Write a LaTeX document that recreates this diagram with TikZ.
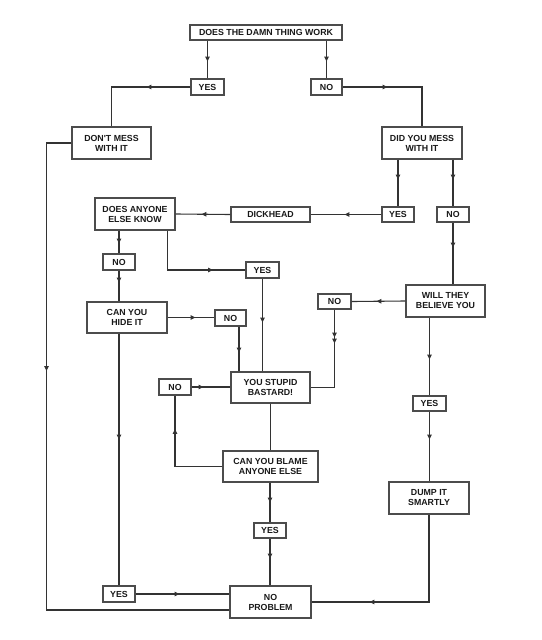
\documentclass[tikz,border=0pt]{standalone}
\usepackage{fontspec}
\newfontfamily\lab{Liberation Sans}
\usetikzlibrary{arrows.meta,decorations.markings}
\tikzset{
  box/.style={draw=black!70, line width=1.1pt, fill=white, align=center, inner sep=0pt,
    font=\lab\bfseries\fontsize{8.8}{10}\selectfont, text=black!90},
  ln/.style={draw=black!80, line width=1.1pt},
  ar/.style={ln, decoration={markings, mark=at position #1 with {\arrow{Triangle[length=5pt,width=4.5pt]}}}, postaction={decorate}},
  artwo/.style 2 args={ln, decoration={markings,
     mark=at position #1 with {\arrow{Triangle[length=5pt,width=4.5pt]}},
     mark=at position #2 with {\arrow{Triangle[length=5pt,width=4.5pt]}}}, postaction={decorate}}
}
\begin{document}
\begin{tikzpicture}[x=1pt,y=-1pt]
\useasboundingbox[fill=white] (0,0) rectangle (541,640);
% boxes
\node[box, minimum width=152pt, minimum height=15pt] (q1) at (266,32.5) {DOES THE DAMN THING WORK};
\node[box, minimum width=33pt, minimum height=16pt] (yes1) at (207.5,87) {YES};
\node[box, minimum width=31pt, minimum height=16pt] (no1) at (326.5,87) {NO};
\node[box, minimum width=79pt, minimum height=32pt] (dont) at (111.5,143) {DON'T MESS\\WITH IT};
\node[box, minimum width=80pt, minimum height=32pt] (dym) at (422,143) {DID YOU MESS\\WITH IT};
\node[box, minimum width=32pt, minimum height=15pt] (yes2) at (398,214.5) {YES};
\node[box, minimum width=32pt, minimum height=15pt] (no2) at (453,214.5) {NO};
\node[box, minimum width=79pt, minimum height=15pt] (dick) at (270.5,214.5) {DICKHEAD};
\node[box, minimum width=80pt, minimum height=32pt] (daek) at (135,214) {DOES ANYONE\\ELSE KNOW};
\node[box, minimum width=32pt, minimum height=16pt] (no3) at (119,262) {NO};
\node[box, minimum width=33pt, minimum height=16pt] (yes3) at (262.5,270) {YES};
\node[box, minimum width=80pt, minimum height=31pt] (cyhi) at (127,317.5) {CAN YOU\\HIDE IT};
\node[box, minimum width=31pt, minimum height=16pt] (no5) at (230.5,318) {NO};
\node[box, minimum width=79pt, minimum height=32pt] (wtby) at (445.5,301) {WILL THEY\\BELIEVE YOU};
\node[box, minimum width=33pt, minimum height=15pt] (no4) at (334.5,301.5) {NO};
\node[box, minimum width=79pt, minimum height=31pt] (ysb) at (270.5,387.5) {YOU STUPID\\BASTARD!};
\node[box, minimum width=32pt, minimum height=16pt] (no6) at (175,387) {NO};
\node[box, minimum width=33pt, minimum height=15pt] (yes5) at (429.5,403.5) {YES};
\node[box, minimum width=80pt, minimum height=32pt] (dump) at (429,498) {DUMP IT\\SMARTLY};
\node[box, minimum width=95pt, minimum height=31pt] (cybae) at (270.5,466.5) {CAN YOU BLAME\\ANYONE ELSE};
\node[box, minimum width=32pt, minimum height=15pt] (yes7) at (270,530.5) {YES};
\node[box, minimum width=32pt, minimum height=16pt] (yes6) at (119,594) {YES};
\node[box, minimum width=81pt, minimum height=32pt] (np) at (270.5,602) {NO\\PROBLEM};
% connectors
\draw[ar=21pt] (yes1.north |- q1.south) -- (yes1.north);
\draw[ar=21pt] (no1.north |- q1.south) -- (no1.north);
\draw[ar=44pt] (yes1.west) -| (dont.north);
\draw[ar=45pt] (no1.east) -| (dym.north);
\draw[ar=253pt] (dont.west) -- ++(-25,0) |- ([yshift=-8pt]np.west);
\draw[ar=20pt] (dym.south -| yes2.north) -- (yes2.north);
\draw[ar=20pt] (dym.south -| no2.north) -- (no2.north);
\draw[ar=37pt] (yes2.west) -- (dick.east);
\draw[ar=29pt] (dick.west) -- (daek.east);
\draw[ar=13pt] (daek.south -| no3.north) -- (no3.north);
\draw[ar=12pt] (no3.south) -- (no3.south |- cyhi.north);
\draw[ar=85pt] ([xshift=-8pt]daek.south east) |- (yes3.west);
\draw[ar=44pt] (yes3.south) -- (yes3.south |- ysb.north);
\draw[ar=25pt] (no2.south) -- (no2.south |- wtby.north);
\draw[ar=29pt] (wtby.west) -- (no4.east);
\draw[artwo={28pt}{34pt}] (no4.south) |- (ysb.east);
\draw[ar=42pt] (wtby.south -| yes5.north) -- (yes5.north);
\draw[ar=28pt] (yes5.south) -- (yes5.south |- dump.north);
\draw[ar=147pt] (dump.south) |- (np.east);
\draw[ar=28pt] (cyhi.east) -- (cyhi.east -| no5.west);
\draw[ar=26pt] ([xshift=8.5pt]no5.south) -- ([xshift=8.5pt]no5.south |- ysb.north);
\draw[ar=106pt] (cyhi.south -| yes6.north) -- (yes6.north);
\draw[ar=44pt] (yes6.east) -- (yes6.east -| np.west);
\draw[ar=12pt] (no6.east) -- (no6.east -| ysb.west);
\draw[ln] (ysb.south) -- (cybae.north);
\draw[ar=85pt] (cybae.west) -| (no6.south);
\draw[ar=20pt] (cybae.south -| yes7.north) -- (yes7.north);
\draw[ar=20pt] (yes7.south) -- (yes7.south |- np.north);
\end{tikzpicture}
\end{document}
